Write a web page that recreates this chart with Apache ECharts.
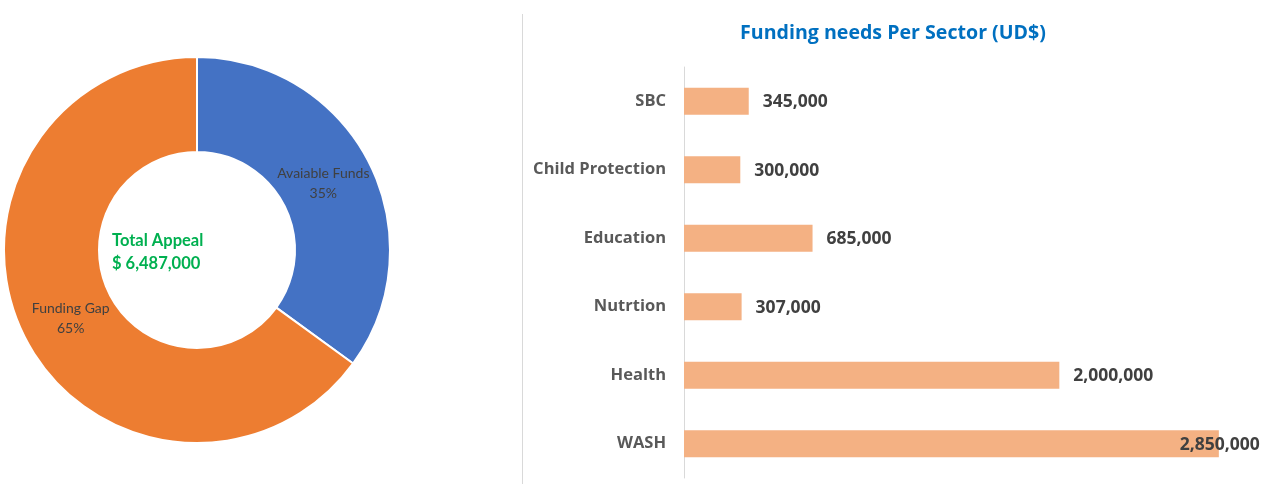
<!DOCTYPE html>
<html>
<head>
<meta charset="utf-8">
<script src="https://cdn.jsdelivr.net/npm/echarts@6/dist/echarts.min.js"></script>
<style>
html,body{margin:0;padding:0;background:#fff;}
#main{width:1263px;height:484px;}
</style>
</head>
<body>
<div id="main"></div>
<script>
const pieNames = ['Avaiable Funds', 'Funding Gap'];
const pieValues = [35, 65];
const totalAppeal = '$ 6,487,000';

const sectors = ['SBC', 'Child Protection', 'Education', 'Nutrtion', 'Health', 'WASH'];
const sectorValues = [345000, 300000, 685000, 307000, 2000000, 2850000];

const LATO = 'Lato, "Open Sans", sans-serif';
const OPEN = '"Open Sans", Lato, sans-serif';
const chart = echarts.init(document.getElementById('main'), null, {renderer: 'canvas'});

const fmt = v => v.toLocaleString('en-US');
const pieColors = ['#4472c4', '#ed7d31'];
const pieLabelOffsets = [[-6, 1], [6, 1]];

chart.setOption({
  animation: false,
  backgroundColor: '#ffffff',
  title: {
    text: 'Funding needs Per Sector (UD$)',
    left: 735, top: 18,
    textStyle: {color: '#0070c0', fontFamily: OPEN, fontWeight: 'bold', fontSize: 19.6}
  },
  graphic: [
    {type: 'line', shape: {x1: 522.5, y1: 14, x2: 522.5, y2: 484}, style: {stroke: '#d9d9d9', lineWidth: 1}},
    {type: 'text', left: 112, top: 232, style: {text: 'Total Appeal', fill: '#00b050', font: 'bold 16.5px ' + LATO}},
    {type: 'text', left: 112, top: 255, style: {text: totalAppeal, fill: '#00b050', font: 'bold 16.5px ' + LATO}}
  ],
  grid: {left: 684, top: 67, width: 563, height: 411, containLabel: false},
  xAxis: {
    type: 'value', min: 0, max: 3000000, show: false
  },
  yAxis: {
    type: 'category', data: sectors, inverse: true,
    axisLine: {show: true, lineStyle: {color: '#d9d9d9'}},
    axisTick: {show: false},
    axisLabel: {margin: 18, color: '#595959', fontFamily: OPEN, fontWeight: 'bold', fontSize: 16.5}
  },
  series: [
    {
      type: 'pie',
      center: [197, 250],
      radius: [98, 193],
      startAngle: 90,
      clockwise: true,
      avoidLabelOverlap: false,
      itemStyle: {borderColor: '#ffffff', borderWidth: 2},
      label: {
        show: true, position: 'inside',
        formatter: p => p.name + '\n' + p.value + '%',
        color: '#404040', fontFamily: LATO, fontSize: 14, lineHeight: 20
      },
      labelLine: {show: false},
      emphasis: {disabled: true},
      data: pieNames.map((n, i) => ({
        name: n, value: pieValues[i],
        itemStyle: {color: pieColors[i]},
        label: {offset: pieLabelOffsets[i]}
      }))
    },
    {
      type: 'bar',
      barWidth: 27,
      itemStyle: {color: '#f4b183'},
      label: {
        show: true, position: 'right', distance: 14, offset: [0, 1],
        formatter: p => fmt(p.value),
        color: '#404040', fontFamily: OPEN, fontWeight: 'bold', fontSize: 17.5
      },
      emphasis: {disabled: true},
      data: sectorValues.map((v, i) => i === sectorValues.length - 1
        ? {value: v, label: {distance: -39}}
        : v)
    }
  ]
});
</script>
</body>
</html>
